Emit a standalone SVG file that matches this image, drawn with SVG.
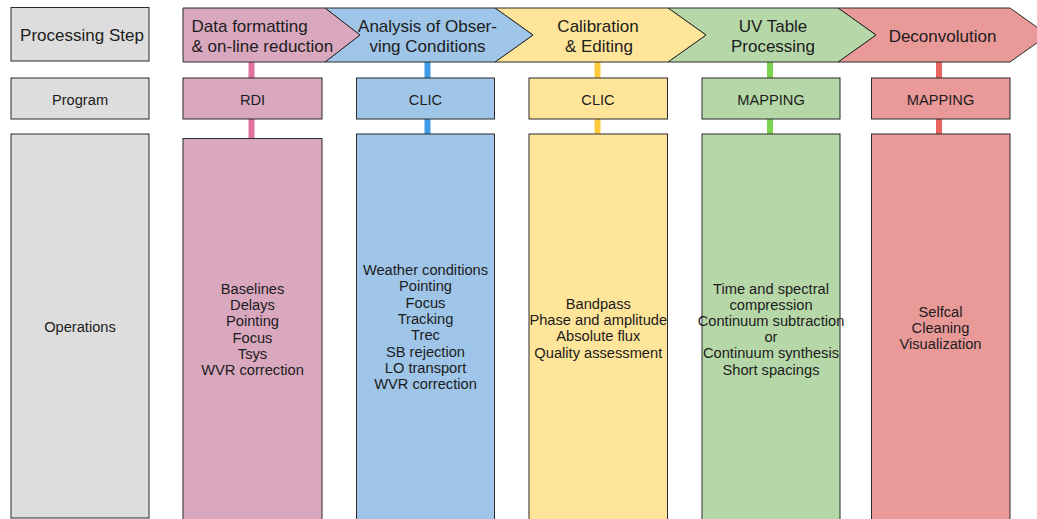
<svg xmlns="http://www.w3.org/2000/svg" width="1037" height="519" viewBox="0 0 1037 519">
  <style>
    text { font-family: "Liberation Sans", Arial, sans-serif; fill: #1c1c1c; text-anchor: middle; }
    .big { font-size: 17px; }
    .sm { font-size: 14.67px; }
    .box { stroke: #2a2a2a; stroke-width: 1; }
    .gray { fill: #DDDDDD; }
    .pink { fill: #D9A8BE; }
    .blue { fill: #9FC5E8; }
    .yellow { fill: #FFE599; }
    .green { fill: #B6D7A8; }
    .red { fill: #EA9999; }
    .conn { stroke-width: 6; fill: none; }
  </style>
  <rect width="1037" height="519" fill="#ffffff"/>
  <g id="connectors">
    <line class="conn" x1="251.5" y1="62" x2="251.5" y2="139" stroke="#E0709C"/>
    <line class="conn" x1="427.5" y1="62" x2="427.5" y2="135" stroke="#3D9BE9"/>
    <line class="conn" x1="597.5" y1="62" x2="597.5" y2="135" stroke="#FFCB3D"/>
    <line class="conn" x1="770" y1="62" x2="770" y2="135" stroke="#7AD450"/>
    <line class="conn" x1="939" y1="62" x2="939" y2="135" stroke="#E86461"/>
  </g>
  <g id="label-processing-step">
    <rect class="box gray" x="11" y="7.5" width="138" height="53.5"/>
    <text class="big" x="82" y="40.5">Processing Step</text>
  </g>
  <g id="label-program">
    <rect class="box gray" x="11" y="78" width="138" height="41"/>
    <text class="sm" x="80" y="104.5">Program</text>
  </g>
  <g id="label-operations">
    <rect class="box gray" x="11" y="134" width="138" height="384"/>
    <text class="sm" x="80" y="331.5">Operations</text>
  </g>
  <g id="step-5">
    <polygon class="box red" points="838,8 1010,8 1048,35 1010,62 838,62 876,35"/>
    <text class="big" x="942.5" y="41.5">Deconvolution</text>
  </g>
  <g id="step-4">
    <polygon class="box green" points="668,8 838,8 876,35 838,62 668,62 706,35"/>
    <text class="big" x="773" y="32">UV Table</text>
    <text class="big" x="773" y="51.5">Processing</text>
  </g>
  <g id="step-3">
    <polygon class="box yellow" points="495,8 668,8 706,35 668,62 495,62 533,35"/>
    <text class="big" x="598" y="32">Calibration</text>
    <text class="big" x="599" y="51.5">&amp; Editing</text>
  </g>
  <g id="step-2">
    <polygon class="box blue" points="325,8 495,8 533,35 495,62 325,62 360,35"/>
    <text class="big" x="427.5" y="32">Analysis of Obser-</text>
    <text class="big" x="427.5" y="51.5">ving Conditions</text>
  </g>
  <g id="step-1">
    <polygon class="box pink" points="183,8 325,8 360,35 325,62 183,62"/>
    <text class="big" style="text-anchor:start" x="191.5" y="32">Data formatting</text>
    <text class="big" style="text-anchor:start" x="191.5" y="51.5">&amp; on-line reduction</text>
  </g>
  <g id="program-rdi">
    <rect class="box pink" x="183" y="78" width="139" height="41"/>
    <text class="sm" x="252.5" y="104.5">RDI</text>
  </g>
  <g id="program-clic-1">
    <rect class="box blue" x="356.5" y="78" width="138" height="41"/>
    <text class="sm" x="425.5" y="104.5">CLIC</text>
  </g>
  <g id="program-clic-2">
    <rect class="box yellow" x="529" y="78" width="138.5" height="41"/>
    <text class="sm" x="598" y="104.5">CLIC</text>
  </g>
  <g id="program-mapping-1">
    <rect class="box green" x="702" y="78" width="138" height="41"/>
    <text class="sm" x="771" y="104.5">MAPPING</text>
  </g>
  <g id="program-mapping-2">
    <rect class="box red" x="871.5" y="78" width="138.5" height="41"/>
    <text class="sm" x="940.5" y="104.5">MAPPING</text>
  </g>
  <g id="ops-1">
    <rect class="box pink" x="183" y="138.5" width="139" height="390"/>
    <text class="sm" x="252.5" y="294">Baselines<tspan x="252.5" dy="16.2">Delays</tspan><tspan x="252.5" dy="16.2">Pointing</tspan><tspan x="252.5" dy="16.2">Focus</tspan><tspan x="252.5" dy="16.2">Tsys</tspan><tspan x="252.5" dy="16.2">WVR correction</tspan></text>
  </g>
  <g id="ops-2">
    <rect class="box blue" x="356.5" y="134" width="138" height="394"/>
    <text class="sm" x="425.5" y="275">Weather conditions<tspan x="425.5" dy="16.3">Pointing</tspan><tspan x="425.5" dy="16.3">Focus</tspan><tspan x="425.5" dy="16.3">Tracking</tspan><tspan x="425.5" dy="16.3">Trec</tspan><tspan x="425.5" dy="16.3">SB rejection</tspan><tspan x="425.5" dy="16.3">LO transport</tspan><tspan x="425.5" dy="16.3">WVR correction</tspan></text>
  </g>
  <g id="ops-3">
    <rect class="box yellow" x="529" y="134" width="138.5" height="394"/>
    <text class="sm" x="598.3" y="309">Bandpass<tspan x="598.3" dy="16.2">Phase and amplitude</tspan><tspan x="598.3" dy="16.2">Absolute flux</tspan><tspan x="598.3" dy="16.2">Quality assessment</tspan></text>
  </g>
  <g id="ops-4">
    <rect class="box green" x="702" y="134" width="138" height="394"/>
    <text class="sm" x="771" y="293.5">Time and spectral<tspan x="771" dy="16.2">compression</tspan><tspan x="771" dy="16.2">Continuum subtraction</tspan><tspan x="771" dy="16.2">or</tspan><tspan x="771" dy="16.2">Continuum synthesis</tspan><tspan x="771" dy="16.2">Short spacings</tspan></text>
  </g>
  <g id="ops-5">
    <rect class="box red" x="871.5" y="134" width="138.5" height="394"/>
    <text class="sm" x="940.5" y="317">Selfcal<tspan x="940.5" dy="16.2">Cleaning</tspan><tspan x="940.5" dy="16.2">Visualization</tspan></text>
  </g>
</svg>
